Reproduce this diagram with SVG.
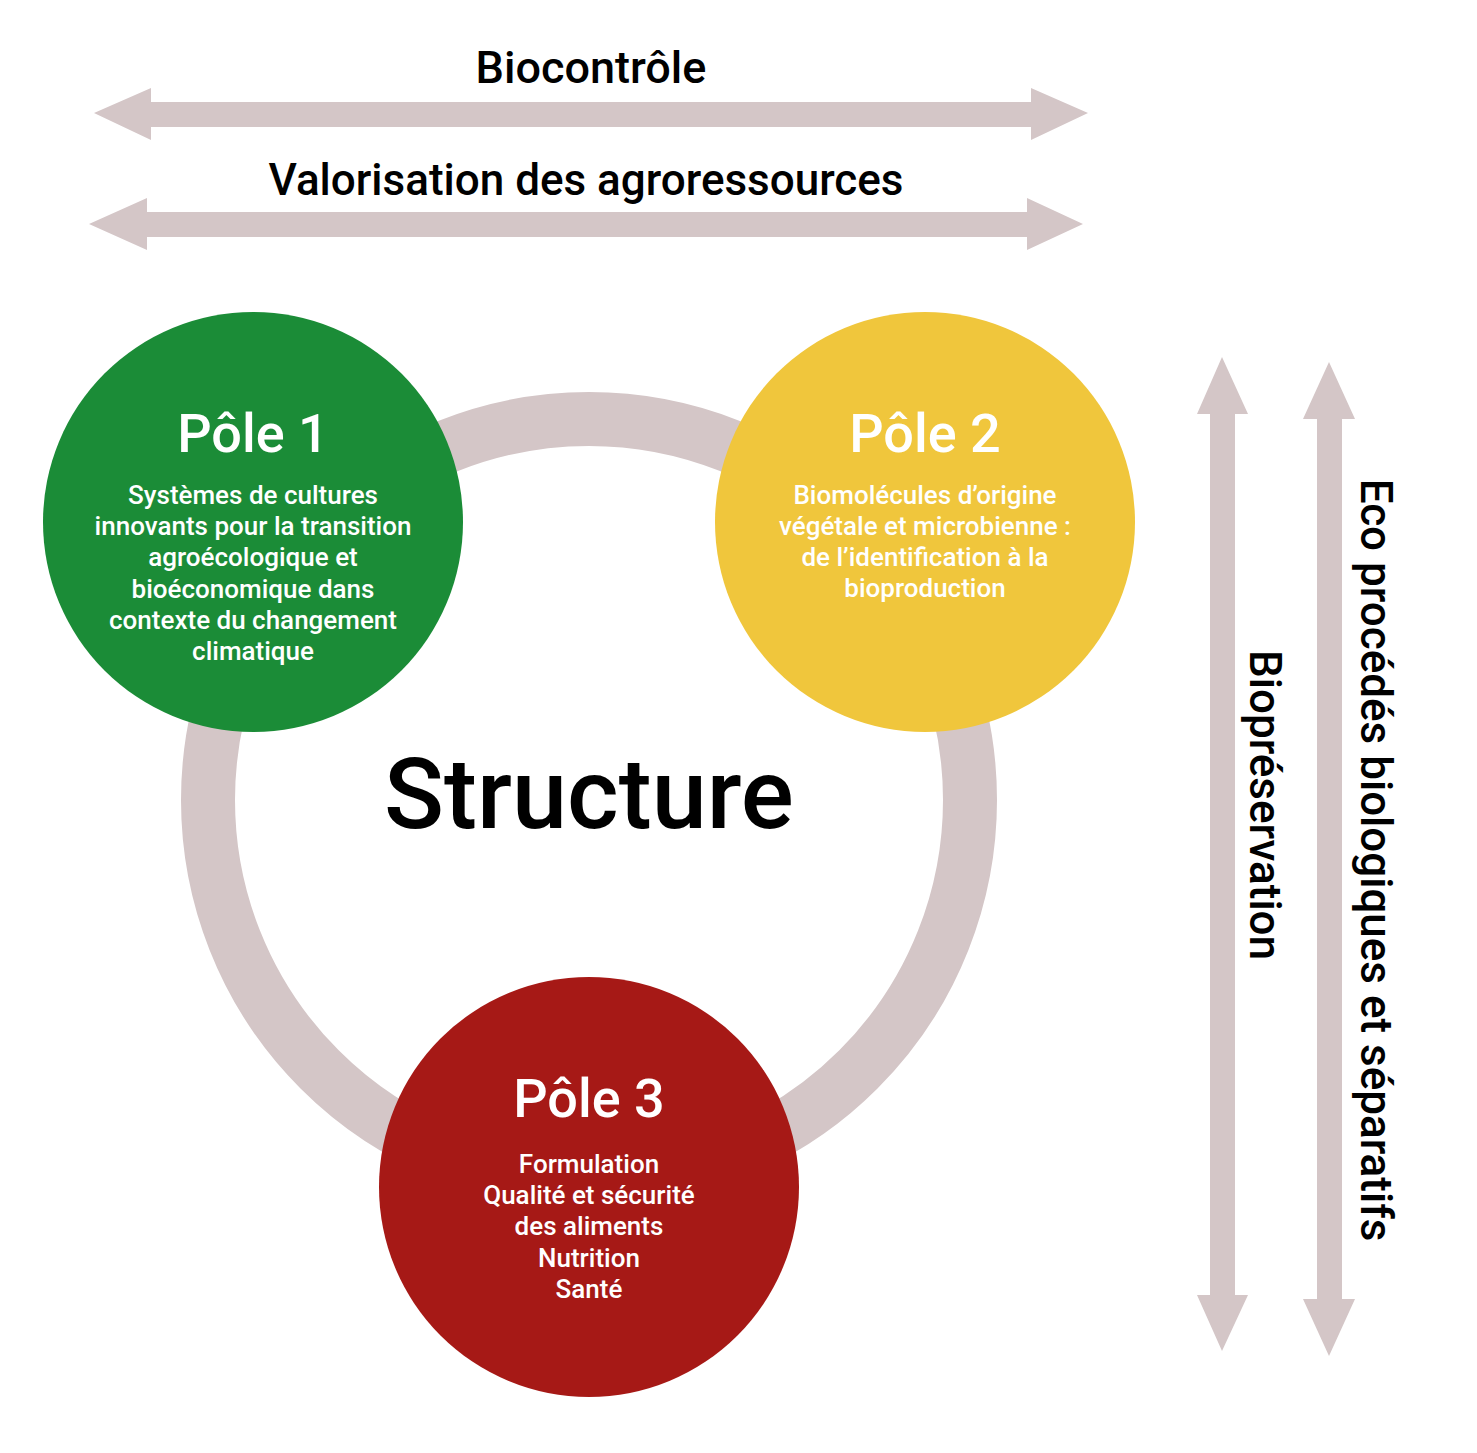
<svg xmlns="http://www.w3.org/2000/svg" width="1477" height="1453" viewBox="0 0 1477 1453">
<style>
.arr{fill:#d4c6c7}
.t{font-family:Roboto,"Liberation Sans",sans-serif;fill:#000}
.w{font-family:Roboto,"Liberation Sans",sans-serif;fill:#fff;text-anchor:middle}
.h{font-size:54px;font-weight:500}
.b{font-size:26px;font-weight:500}
</style>
<rect width="1477" height="1453" fill="#fff"/>
<g id="connectors">
<polygon class="arr" points="94,113 151,88 151,102 1031,102 1031,88 1088,113 1031,140 1031,127 151,127 151,140"/>
<polygon class="arr" points="89,224 147,198 147,212 1027,212 1027,198 1083,224 1027,250 1027,237 147,237 147,250"/>
<polygon class="arr" points="1222,357 1248,414 1235,414 1235,1295 1248,1295 1222,1351 1197,1295 1210,1295 1210,414 1197,414"/>
<polygon class="arr" points="1329,362 1355,419 1342,419 1342,1299 1355,1299 1329,1356 1303,1299 1317,1299 1317,419 1303,419"/>
<circle cx="589" cy="800" r="381" fill="none" stroke="#d4c6c7" stroke-width="54"/>
</g>
<g id="labels">
<text class="t" x="591" y="83" font-size="45" text-anchor="middle" font-weight="500">Biocontrôle</text>
<text class="t" x="586" y="195" font-size="44" text-anchor="middle" font-weight="500">Valorisation des agroressources</text>
<text class="t" x="589" y="828" font-size="99" text-anchor="middle" font-weight="500">Structure</text>
<text class="t" font-size="44" font-weight="500" text-anchor="middle" transform="translate(1250,805) rotate(90)">Biopréservation</text>
<text class="t" font-size="44" font-weight="500" text-anchor="middle" transform="translate(1361,860) rotate(90)">Eco procédés biologiques et séparatifs</text>
</g>
<g id="pole1">
<circle cx="253" cy="522" r="210" fill="#1b8c37"/>
<text class="w h" x="253" y="452">Pôle 1</text>
<text class="w b"><tspan x="253" y="504">Systèmes de cultures</tspan><tspan x="253" y="535">innovants pour la transition</tspan><tspan x="253" y="566">agroécologique et</tspan><tspan x="253" y="598">bioéconomique dans</tspan><tspan x="253" y="629">contexte du changement</tspan><tspan x="253" y="660">climatique</tspan></text>
</g>
<g id="pole2">
<circle cx="925" cy="522" r="210" fill="#f0c63c"/>
<text class="w h" x="925" y="452">Pôle 2</text>
<text class="w b"><tspan x="925" y="504">Biomolécules d’origine</tspan><tspan x="925" y="535">végétale et microbienne :</tspan><tspan x="925" y="566">de l’identification à la</tspan><tspan x="925" y="597">bioproduction</tspan></text>
</g>
<g id="pole3">
<circle cx="589" cy="1187" r="210" fill="#a61916"/>
<text class="w h" x="589" y="1117">Pôle 3</text>
<text class="w b"><tspan x="589" y="1173">Formulation</tspan><tspan x="589" y="1204">Qualité et sécurité</tspan><tspan x="589" y="1235">des aliments</tspan><tspan x="589" y="1267">Nutrition</tspan><tspan x="589" y="1298">Santé</tspan></text>
</g>
</svg>
